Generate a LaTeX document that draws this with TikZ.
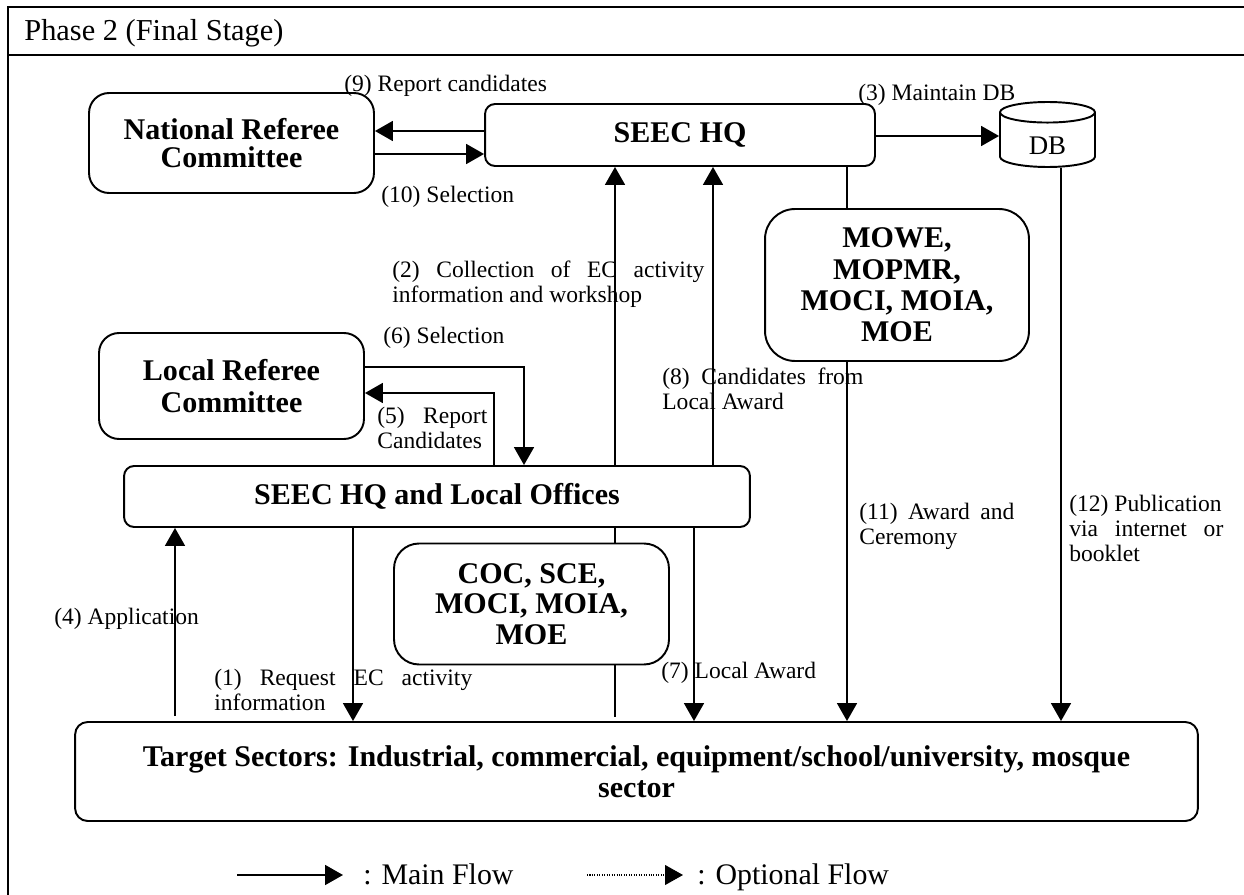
\documentclass[tikz,border=0pt]{standalone}
\usepackage{fontspec}
\setmainfont{Liberation Serif}
\usetikzlibrary{arrows.meta,shapes.geometric}

\tikzset{
  box/.style={draw, line width=1.1pt, align=center, inner sep=0pt,
    font=\fontsize{17.1}{17.5}\selectfont\bfseries},
  flow/.style={line width=1.1pt, -{Triangle[length=10.2pt,width=11.3pt]}},
  link/.style={line width=1.1pt},
  lbl/.style={anchor=north west, inner sep=0pt, align=left,
    font=\fontsize{13.4}{14.2}\selectfont},
  legend/.style={anchor=base west, inner sep=0pt, font=\fontsize{17}{20}\selectfont},
}

\begin{document}
\begin{tikzpicture}[x=0.02cm,y=-0.02cm]
  \useasboundingbox (0,0) rectangle (1244,895);

  % Rahmen
  \draw[line width=1.3pt] (1244,7) -- (8,7) -- (8,895);
  \draw[line width=1.3pt] (8,55) -- (1244,55);
  \node[anchor=west, inner sep=0pt, font=\fontsize{17.3}{20}\selectfont] (title) at (24,33) {Phase 2 (Final Stage)};

  % Kaesten
  \node[box, rounded corners=0.4cm, minimum width=5.7cm, minimum height=2cm,
    font=\fontsize{17.1}{15.5}\selectfont\bfseries] (nrc) at (231.5,143) {National Referee\\Committee};
  \node[box, rounded corners=0.2cm, minimum width=7.8cm, minimum height=1.24cm] (hq) at (680,135) {SEEC HQ};
  \node[draw, cylinder, shape border rotate=90, aspect=0.55, line width=1.1pt,
    minimum width=1.9cm, minimum height=1.3cm, inner sep=0pt,
    text height=16.8pt, text depth=0pt, anchor=shape center,
    font=\fontsize{15.3}{15}\selectfont] (db) at (1047.5,134.5) {DB};
  \node[box, rounded corners=0.6cm, minimum width=5.28cm, minimum height=3.04cm,
    font=\fontsize{17.1}{17.8}\selectfont\bfseries] (mowe) at (897,285) {MOWE,\\MOPMR,\\MOCI, MOIA,\\MOE};
  \node[box, rounded corners=0.4cm, minimum width=5.3cm, minimum height=2.12cm,
    font=\fontsize{17.1}{18}\selectfont\bfseries] (lrc) at (231.5,386) {Local Referee\\Committee};
  \node[box, rounded corners=0.2cm, minimum width=12.52cm, minimum height=1.22cm] (lo) at (437,496.5) {SEEC HQ and Local Offices};
  \node[box, rounded corners=0.5cm, minimum width=5.5cm, minimum height=2.42cm] (coc) at (531.5,604) {COC, SCE,\\MOCI, MOIA,\\MOE};
  \node[box, rounded corners=0.25cm, minimum width=22.46cm, minimum height=1.98cm] (tgt) at (636.5,771.5)
    {Target Sectors: Industrial, commercial, equipment/school/university, mosque\\sector};

  % Verbindungen
  \draw[flow] (hq.west |- 0,131) -- (nrc.east |- 0,131);
  \draw[flow] (nrc.east |- 0,154) -- (hq.west |- 0,154);
  \draw[flow] (hq.east |- 0,136) -- (db.west |- 0,136);
  \draw[flow] (lo.north -| 615,0) -- (hq.south -| 615,0);
  \draw[flow] (lo.north -| 713,0) -- (hq.south -| 713,0);
  \draw[link] (hq.south -| 847,0) -- (mowe.north -| 847,0);
  \draw[flow] (mowe.south -| 847,0) -- (tgt.north -| 847,0);
  \draw[flow] (db.south -| 1061,0) -- (tgt.north -| 1061,0);
  \draw[flow] (lrc.east |- 0,367) -| (lo.north -| 524,0);
  \draw[flow] (lo.north -| 494,0) |- (lrc.east |- 0,393);
  \draw[flow, shorten <=2.8pt] (tgt.north -| 175,0) -- (lo.south -| 175,0);
  \draw[flow] (lo.south -| 353,0) -- (tgt.north -| 353,0);
  \draw[link] (lo.south -| 615,0) -- (coc.north -| 615,0);
  \draw[link, shorten >=2.3pt] (coc.south -| 615,0) -- (tgt.north -| 615,0);
  \draw[flow] (lo.south -| 694,0) -- (tgt.north -| 694,0);

  % Beschriftungen
  \node[lbl] (l9) at (344,75) {(9) Report candidates};
  \node[lbl] (l10) at (381,186) {(10) Selection};
  \node[lbl] (l3) at (858,84) {(3) Maintain DB};
  \node[lbl] (l2) at (392,261) {\makebox[6.24cm][s]{(2) Collection of EC activity}\\information and workshop};
  \node[lbl] (l6) at (383,327) {(6) Selection};
  \node[lbl] (l5) at (377,407) {\makebox[2.2cm][s]{(5) Report}\\Candidates};
  \node[lbl] (l8) at (662,368) {\makebox[4.02cm][s]{(8) Candidates from}\\Local Award};
  \node[lbl] (l11) at (859,503) {\makebox[3.1cm][s]{(11) Award and}\\Ceremony};
  \node[lbl] (l12) at (1069,495) {(12) Publication\\\makebox[3.08cm][s]{via internet or}\\booklet};
  \node[lbl] (l4) at (54,608) {(4) Application};
  \node[lbl] (l1) at (214,669) {\makebox[5.16cm][s]{(1) Request EC activity}\\information};
  \node[lbl] (l7) at (661,662) {(7) Local Award};

  % Legende
  \coordinate (mainS) at (237,875);
  \coordinate (mainE) at (343,875);
  \draw[flow] (mainS) -- (mainE);
  \node[legend] (mainTxt) at (363,884) {: Main Flow};
  \coordinate (optS) at (587,875);
  \coordinate (optE) at (683,875);
  \draw[line width=0.6pt, dash pattern=on 0.6pt off 0.8pt, -{Triangle[length=10.2pt,width=11.3pt]}] (optS) -- (optE);
  \node[legend] (optTxt) at (697,884) {: Optional Flow};
\end{tikzpicture}
\end{document}
